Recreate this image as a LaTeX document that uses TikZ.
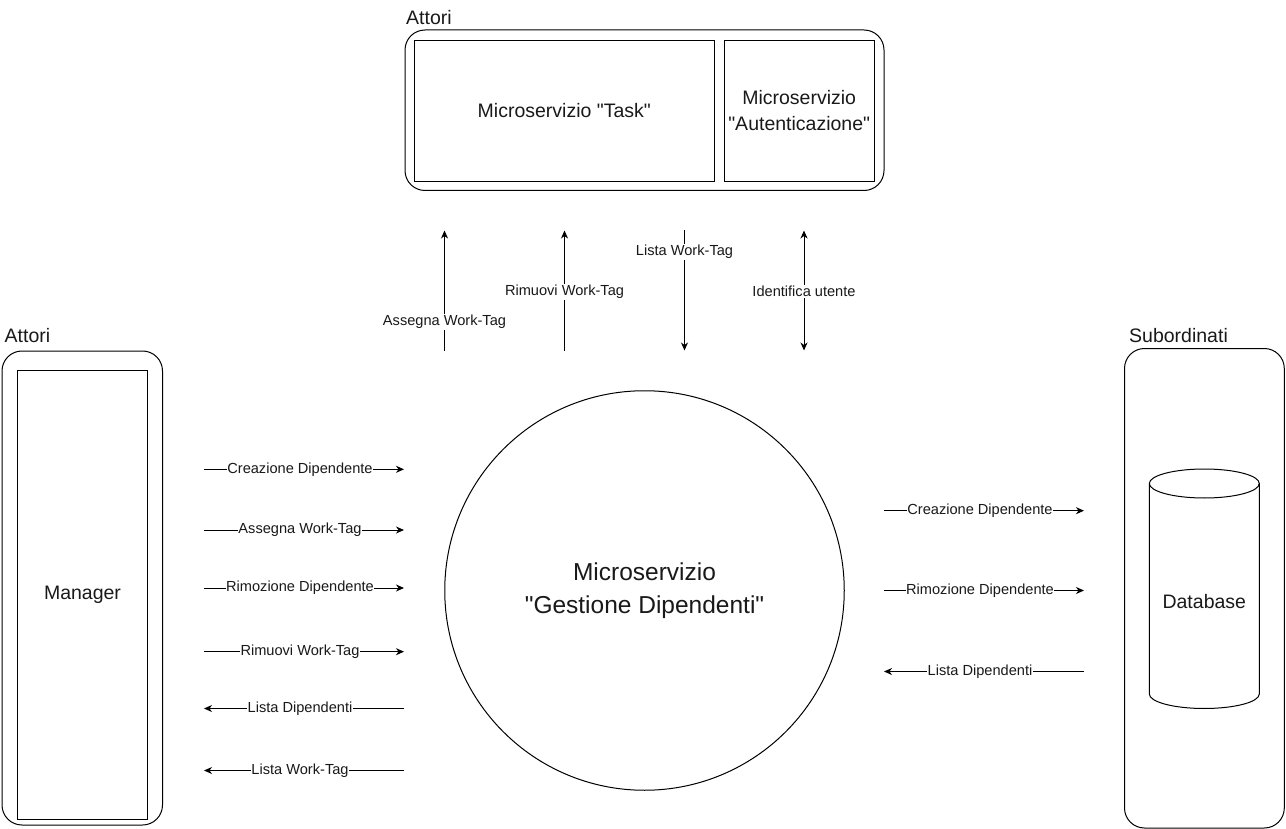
\documentclass[tikz,border=0pt]{standalone}
\usepackage{fontspec}
\setmainfont{Liberation Sans}[Ligatures=TeXOff]
\usetikzlibrary{arrows.meta}
\tikzset{
  boxline/.style={draw=black, line width=1pt},
  container/.style={boxline, rounded corners=20pt},
  inner/.style={boxline},
  bigtxt/.style={font=\fontsize{19.5}{26}\selectfont, text=black!90, align=center},
  title/.style={font=\fontsize{19.5}{24}\selectfont, text=black!90, anchor=west, inner sep=0pt},
  arr/.style={line width=1pt, -{Stealth[length=8pt,width=7pt,inset=2.5pt]}},
  dblarr/.style={line width=1pt, {Stealth[length=8pt,width=7pt,inset=2.5pt]}-{Stealth[length=8pt,width=7pt,inset=2.5pt]}},
  lbl/.style={fill=white, inner xsep=0.5pt, inner ysep=1pt, font=\fontsize{14.6}{17}\selectfont, text=black!90},
}
\begin{document}
\begin{tikzpicture}[x=1pt,y=-1pt]
\useasboundingbox (0,0) rectangle (1286,829);

% top container
\node[title] (ttop) at (406,17.5) {Attori};
\draw[container] (405,30) rectangle (884,190.5);
\node[inner, minimum width=300pt, minimum height=140.5pt, bigtxt] (task) at (564.3,110.8) {Microservizio "Task"};
\node[inner, minimum width=150.3pt, minimum height=140.5pt, bigtxt] (auth) at (799.2,110.8) {Microservizio\\"Autenticazione"};

% left container
\node[title] (tleft) at (4.5,335.5) {Attori};
\draw[container] (2,351) rectangle (162.5,825);
\node[inner, minimum width=130.5pt, minimum height=448.5pt, bigtxt] (manager) at (82.5,595) {Manager};

% right container
\node[title] (tright) at (1129,336) {Subordinati};
\draw[container] (1124.5,348.5) rectangle (1284.3,828);
\coordinate (dbtop) at (1204.3,483.5);
\coordinate (dbbot) at (1204.3,694);
\draw[boxline] (1149.3,483.5) -- (1149.3,694) arc[start angle=180, end angle=360, x radius=55pt, y radius=14.5pt] -- (1259.3,483.5);
\draw[boxline] (dbtop) ellipse [x radius=55pt, y radius=14.5pt];
\node[bigtxt] (db) at (1204.3,602) {Database};

% central circle
\node[circle, boxline, minimum size=399.5pt, inner sep=0pt] (gd) at (644.5,590.5) {};
\node[font=\fontsize{24.5}{33}\selectfont, text=black!90, align=center] (gdtxt) at (644.5,591) {Microservizio\\"Gestione Dipendenti"};

% vertical arrows
\coordinate (v1b) at (444.5,350.5); \coordinate (v1t) at (444.5,230.5);
\coordinate (v2b) at (564.5,350.5); \coordinate (v2t) at (564.5,230.5);
\coordinate (v3t) at (684.5,230.5); \coordinate (v3b) at (684.5,350.5);
\coordinate (v4t) at (804,230.5); \coordinate (v4b) at (804,350.5);
\draw[arr] (v1b) -- node[lbl, pos=0.24] {Assegna Work-Tag} (v1t);
\draw[arr] (v2b) -- node[lbl, pos=0.49] {Rimuovi Work-Tag} (v2t);
\draw[arr] (v3t) -- node[lbl, pos=0.18] {Lista Work-Tag} (v3b);
\draw[dblarr] (v4t) -- node[lbl, pos=0.51] {Identifica utente} (v4b);

% left horizontal arrows
\coordinate (l1a) at (204,469.3); \coordinate (l1b) at (404,469.3);
\coordinate (l2a) at (204,530); \coordinate (l2b) at (404,530);
\coordinate (l3a) at (204,588); \coordinate (l3b) at (404,588);
\coordinate (l4a) at (204,651.7); \coordinate (l4b) at (404,651.7);
\coordinate (l5a) at (204,708.5); \coordinate (l5b) at (404,708.5);
\coordinate (l6a) at (204,770.5); \coordinate (l6b) at (404,770.5);
\draw[arr] (l1a) -- node[lbl, pos=0.48] {Creazione Dipendente} (l1b);
\draw[arr] (l2a) -- node[lbl, pos=0.48] {Assegna Work-Tag} (l2b);
\draw[arr] (l3a) -- node[lbl, pos=0.48] {Rimozione Dipendente} (l3b);
\draw[arr] (l4a) -- node[lbl, pos=0.48] {Rimuovi Work-Tag} (l4b);
\draw[arr] (l5b) -- node[lbl, pos=0.52] {Lista Dipendenti} (l5a);
\draw[arr] (l6b) -- node[lbl, pos=0.52] {Lista Work-Tag} (l6a);

% right horizontal arrows
\coordinate (r1a) at (884,510.7); \coordinate (r1b) at (1084,510.7);
\coordinate (r2a) at (884,590.5); \coordinate (r2b) at (1084,590.5);
\coordinate (r3a) at (884,671.5); \coordinate (r3b) at (1084,671.5);
\draw[arr] (r1a) -- node[lbl, pos=0.48] {Creazione Dipendente} (r1b);
\draw[arr] (r2a) -- node[lbl, pos=0.48] {Rimozione Dipendente} (r2b);
\draw[arr] (r3b) -- node[lbl, pos=0.52] {Lista Dipendenti} (r3a);
\end{tikzpicture}
\end{document}
